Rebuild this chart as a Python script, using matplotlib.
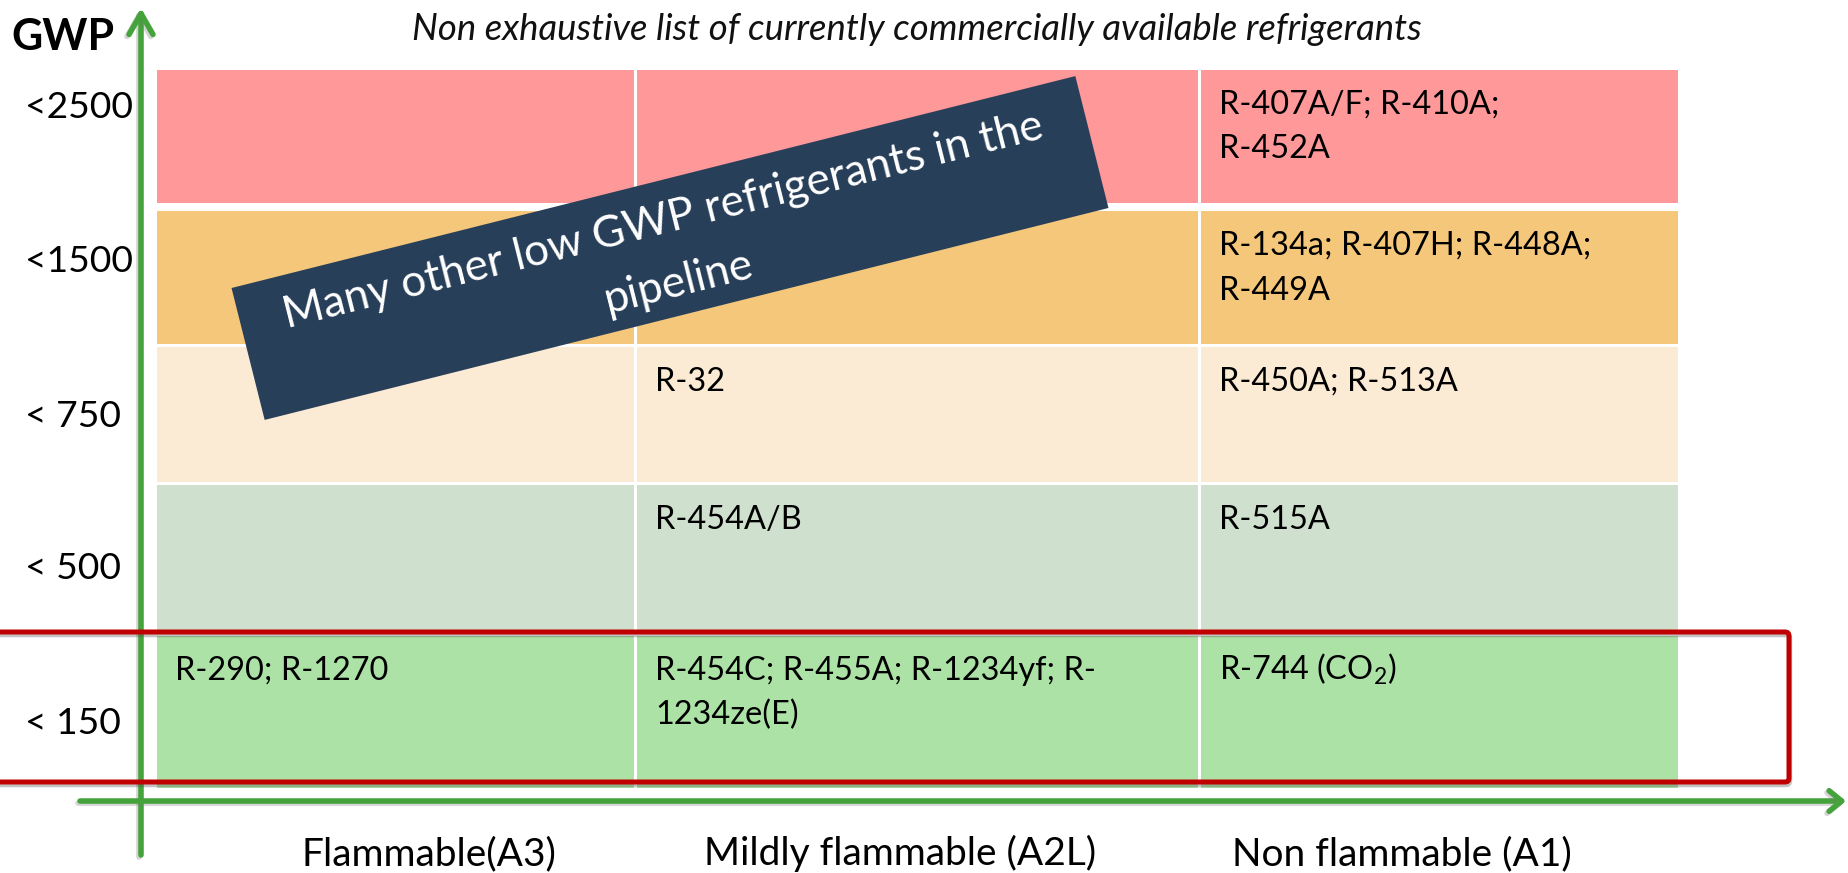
import matplotlib
matplotlib.use("Agg")
import numpy as np
import matplotlib.pyplot as plt
from matplotlib.patches import Polygon, FancyArrowPatch, FancyBboxPatch
import matplotlib.patheffects as pe

FONT = "Lato"
plt.rcParams['font.family'] = [FONT, 'DejaVu Sans']
plt.rcParams['mathtext.fontset'] = 'custom'
plt.rcParams['mathtext.rm'] = FONT
plt.rcParams['mathtext.it'] = FONT + ':italic'
plt.rcParams['mathtext.bf'] = FONT + ':bold'
plt.rcParams['mathtext.default'] = 'regular'

# ---------------- data ----------------
title = "Non exhaustive list of currently commercially available refrigerants"
y_axis_title = "GWP"
gwp_classes = ["<2500", "<1500", "< 750", "< 500", "< 150"]
flammability_classes = ["Flammable(A3)", "Mildly flammable (A2L)", "Non flammable (A1)"]
refrigerants_a3 = [[], [], [], [], ["R-290; R-1270"]]
refrigerants_a2l = [[], [], ["R-32"], ["R-454A/B"],
                    ["R-454C; R-455A; R-1234yf; R-", "1234ze(E)"]]
refrigerants_a1 = [["R-407A/F; R-410A;", "R-452A"],
                   ["R-134a; R-407H; R-448A;", "R-449A"],
                   ["R-450A; R-513A"],
                   ["R-515A"],
                   ["R-744 (CO$_2$)"]]
pipeline_note = ["Many other low GWP refrigerants in the", "pipeline"]
highlighted_class = "< 150"

# ---------------- style / layout ----------------
row_colors = ["#FF9999", "#F4C77B", "#FCEBD4", "#D0E0CF", "#ACE2A6"]
row_edges = [(70, 203), (211, 344), (347, 482), (485, 631), (636, 788)]
col_edges = [(157, 634), (637, 1198), (1201, 1678)]
row_label_baselines = [118, 272, 427, 579, 734]
col_label_centers = [429, 900, 1402]
GREEN = "#45A33C"
RED = "#C00000"
NAVY = "#283F5A"

W, H = 1849, 873
fig = plt.figure(figsize=(W / 100, H / 100), dpi=100)
ax = fig.add_axes([0, 0, 1, 1])
ax.set_xlim(0, W)
ax.set_ylim(H, 0)
ax.axis('off')
renderer = fig.canvas.get_renderer()


def fit(t, target_w):
    w = t.get_window_extent(renderer).width
    t.set_fontsize(t.get_fontsize() * target_w / w)
    return t


# cells
lefts = [c[0] for c in col_edges]
widths = [c[1] - c[0] for c in col_edges]
for (top, bot), color in zip(row_edges, row_colors):
    ax.bar(lefts, [bot - top] * len(lefts), bottom=top, width=widths,
           align='edge', color=color, linewidth=0, zorder=1)

# cell texts
CELL_FS = 23.4
for ci, column in enumerate([refrigerants_a3, refrigerants_a2l, refrigerants_a1]):
    for ri, lines in enumerate(column):
        for k, line in enumerate(lines):
            ax.text(col_edges[ci][0] + 18, row_edges[ri][0] + 44 + k * 44.5, line,
                    ha='left', va='baseline', fontsize=CELL_FS, color='black', zorder=6)

# row labels
for lab, yb in zip(gwp_classes, row_label_baselines):
    ax.text(25, yb, lab, ha='left', va='baseline', fontsize=26.8, color='black')

# axis title
ax.text(11, 50, y_axis_title, ha='left', va='baseline', fontsize=31,
        fontweight='bold', color='black')

# column labels
for lab, xc in zip(flammability_classes, col_label_centers):
    ax.text(xc, 865, lab, ha='center', va='baseline', fontsize=28, color='black')

# title
tt = ax.text(917, 40, title, ha='center', va='baseline', fontsize=20,
             fontstyle='italic', color='#111111')
fit(tt, 1008)

# banner
cx, cy, bw, bh, ang = 670, 248, 870, 136, 14.1
th = np.deg2rad(ang)
u = np.array([np.cos(th), -np.sin(th)])
v = np.array([np.sin(th), np.cos(th)])
c = np.array([cx, cy])
corners = [c - u * bw / 2 - v * bh / 2, c + u * bw / 2 - v * bh / 2,
           c + u * bw / 2 + v * bh / 2, c - u * bw / 2 + v * bh / 2]
ax.add_patch(Polygon(corners, closed=True, facecolor=NAVY, edgecolor='none', zorder=3))
line_gap = 63.5
t1 = ax.text(0, 0, pipeline_note[0], fontsize=20, color='white')
fit(t1, 783)
bfs = t1.get_fontsize()
t1.remove()
for k, line in enumerate(pipeline_note):
    p = c + v * (k - (len(pipeline_note) - 1) / 2) * line_gap
    ax.text(p[0], p[1], line, ha='center', va='center_baseline', rotation=ang,
            rotation_mode='anchor', fontsize=bfs, color='white', zorder=4)

# highlight box around the lowest GWP class
hi = gwp_classes.index(highlighted_class)
shadow = [pe.SimpleLineShadow(offset=(0.5, -2), shadow_color='#555555', alpha=0.35),
          pe.Normal()]
box = FancyBboxPatch((-10, 632), 1789 + 10, 782 - 632,
                     boxstyle='round,pad=0,rounding_size=4', facecolor='none',
                     edgecolor=RED, linewidth=3.6, zorder=5, path_effects=shadow)
ax.add_patch(box)

# axes arrows
arrow_common = dict(mutation_scale=20, color=GREEN, linewidth=4, shrinkA=0, shrinkB=0,
                    capstyle='round', joinstyle='round', zorder=4,
                    path_effects=[pe.SimpleLineShadow(offset=(-1.5, -1.5),
                                                      shadow_color='#777777', alpha=0.3),
                                  pe.Normal()])
ax.add_patch(FancyArrowPatch((141, 855), (141, 8),
                             arrowstyle='->,head_length=0.75,head_width=0.43', **arrow_common))
ax.add_patch(FancyArrowPatch((80, 801), (1846, 801),
                             arrowstyle='->,head_length=0.45,head_width=0.37', **arrow_common))

fig.savefig("out.png", dpi=100)
